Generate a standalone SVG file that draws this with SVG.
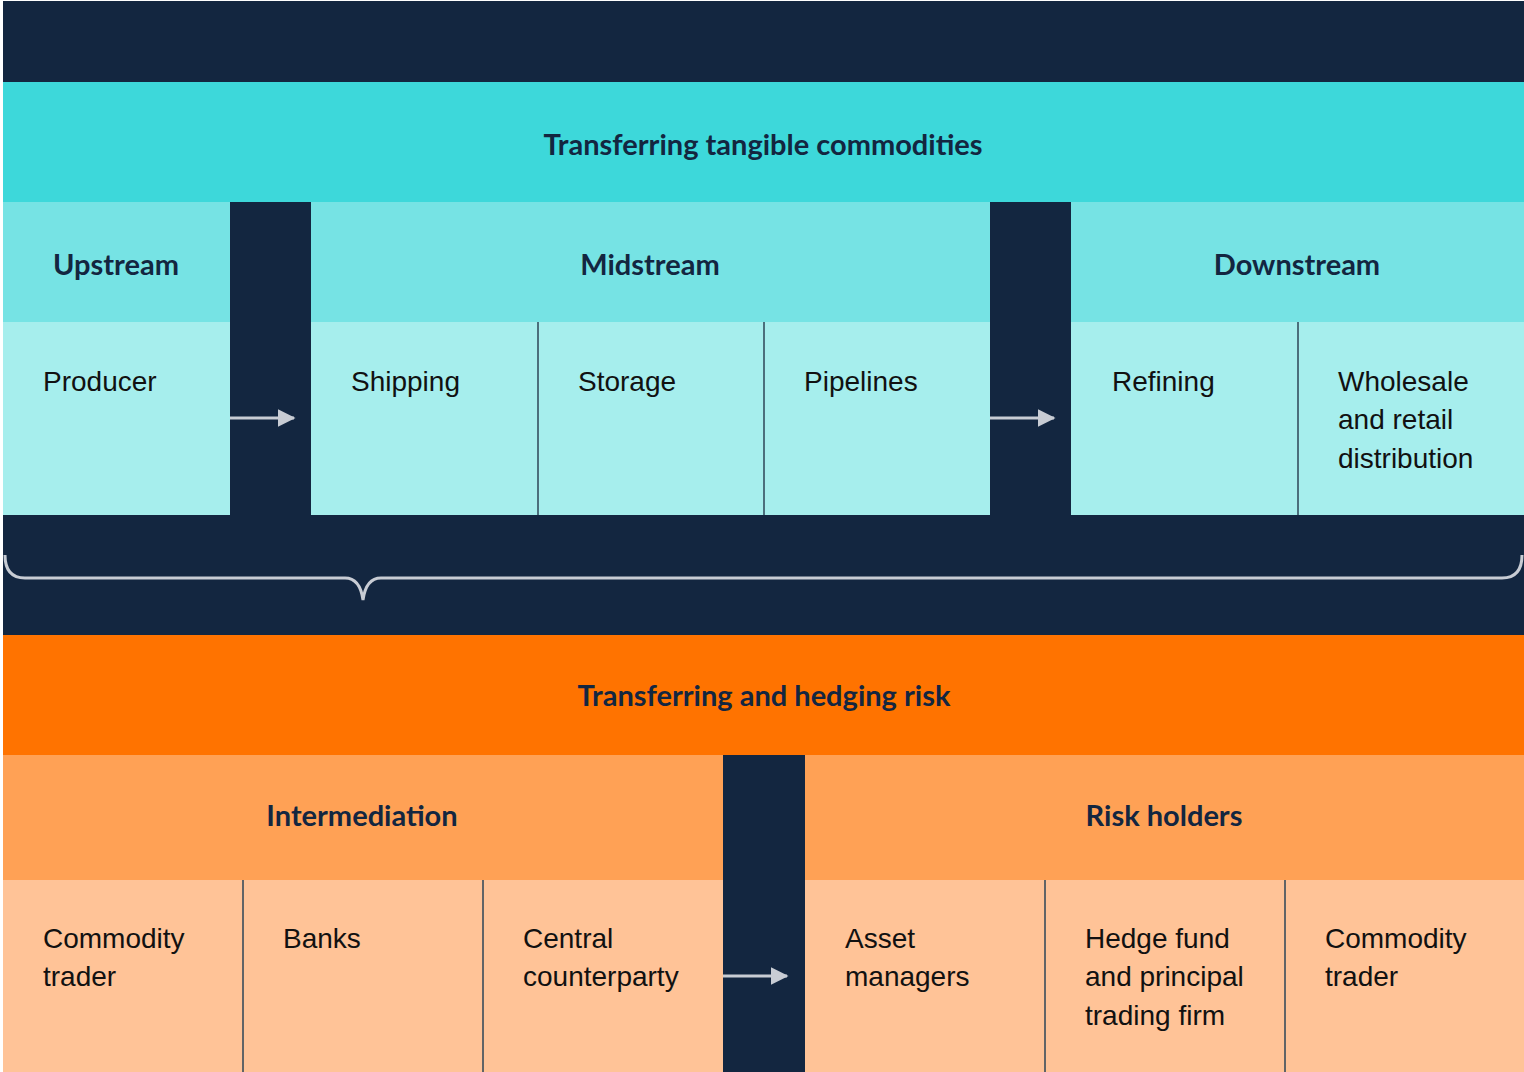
<svg xmlns="http://www.w3.org/2000/svg" width="1524" height="1072" viewBox="0 0 1524 1072">
<defs>
<style>
.title{font-family:Lato,"Open Sans",sans-serif;font-weight:700;font-size:29px;fill:#132640;text-anchor:middle}
.cell{font-family:"Liberation Sans",Arial,sans-serif;font-size:28px;fill:#111111}
.div{stroke:#2c4456;stroke-width:1.5}
.conn{stroke:#c8ccd4;stroke-width:3;fill:none}
</style>
<marker id="ah" markerWidth="6" markerHeight="6" refX="5.5" refY="3" orient="auto" markerUnits="strokeWidth">
<path d="M0,0 L6,3 L0,6 z" fill="#c8ccd4"/>
</marker>
</defs>
<rect x="0" y="0" width="1524" height="1072" fill="#ffffff"/>
<rect x="3" y="1" width="1521" height="1071" fill="#132640"/>

<g id="top-title">
<rect x="3" y="82" width="1521" height="120" fill="#3dd8da"/>
<text class="title" x="763" y="155">Transferring tangible commodities</text>
</g>
<g id="upstream">
<rect x="3" y="202" width="227" height="120" fill="#76e3e4"/>
<text class="title" x="116" y="275">Upstream</text>
</g>
<g id="midstream">
<rect x="311" y="202" width="679" height="120" fill="#76e3e4"/>
<text class="title" x="650" y="275">Midstream</text>
</g>
<g id="downstream">
<rect x="1071" y="202" width="453" height="120" fill="#76e3e4"/>
<text class="title" x="1297" y="275">Downstream</text>
</g>
<g id="producer">
<rect x="3" y="322" width="227" height="193" fill="#a6eeed"/>
<text class="cell" x="43" y="391">Producer</text>
</g>
<g id="shipping">
<rect x="311" y="322" width="227" height="193" fill="#a6eeed"/>
<text class="cell" x="351" y="391">Shipping</text>
</g>
<g id="storage">
<rect x="538" y="322" width="226" height="193" fill="#a6eeed"/>
<line class="div" x1="538" y1="322" x2="538" y2="515"/>
<text class="cell" x="578" y="391">Storage</text>
</g>
<g id="pipelines">
<rect x="764" y="322" width="226" height="193" fill="#a6eeed"/>
<line class="div" x1="764" y1="322" x2="764" y2="515"/>
<text class="cell" x="804" y="391">Pipelines</text>
</g>
<g id="refining">
<rect x="1071" y="322" width="227" height="193" fill="#a6eeed"/>
<text class="cell" x="1112" y="391">Refining</text>
</g>
<g id="wholesale">
<rect x="1298" y="322" width="226" height="193" fill="#a6eeed"/>
<line class="div" x1="1298" y1="322" x2="1298" y2="515"/>
<text class="cell" x="1338" y="391">Wholesale</text>
<text class="cell" x="1338" y="429">and retail</text>
<text class="cell" x="1338" y="468">distribution</text>
</g>

<g id="bottom-title">
<rect x="3" y="635" width="1521" height="120" fill="#ff7300"/>
<text class="title" x="764" y="706">Transferring and hedging risk</text>
</g>
<g id="intermediation">
<rect x="3" y="755" width="720" height="125" fill="#ffa155"/>
<text class="title" x="362" y="826">Intermediation</text>
</g>
<g id="risk-holders">
<rect x="805" y="755" width="719" height="125" fill="#ffa155"/>
<text class="title" x="1164" y="826">Risk holders</text>
</g>
<g id="commodity-trader-1">
<rect x="3" y="880" width="240" height="192" fill="#ffc397"/>
<text class="cell" x="43" y="948">Commodity</text>
<text class="cell" x="43" y="986">trader</text>
</g>
<g id="banks">
<rect x="243" y="880" width="240" height="192" fill="#ffc397"/>
<line class="div" x1="243" y1="880" x2="243" y2="1072"/>
<text class="cell" x="283" y="948">Banks</text>
</g>
<g id="central-counterparty">
<rect x="483" y="880" width="240" height="192" fill="#ffc397"/>
<line class="div" x1="483" y1="880" x2="483" y2="1072"/>
<text class="cell" x="523" y="948">Central</text>
<text class="cell" x="523" y="986">counterparty</text>
</g>
<g id="asset-managers">
<rect x="805" y="880" width="240" height="192" fill="#ffc397"/>
<text class="cell" x="845" y="948">Asset</text>
<text class="cell" x="845" y="986">managers</text>
</g>
<g id="hedge-fund">
<rect x="1045" y="880" width="240" height="192" fill="#ffc397"/>
<line class="div" x1="1045" y1="880" x2="1045" y2="1072"/>
<text class="cell" x="1085" y="948">Hedge fund</text>
<text class="cell" x="1085" y="986">and principal</text>
<text class="cell" x="1085" y="1025">trading firm</text>
</g>
<g id="commodity-trader-2">
<rect x="1285" y="880" width="239" height="192" fill="#ffc397"/>
<line class="div" x1="1285" y1="880" x2="1285" y2="1072"/>
<text class="cell" x="1325" y="948">Commodity</text>
<text class="cell" x="1325" y="986">trader</text>
</g>

<g id="connectors">
<line class="conn" x1="230" y1="418" x2="294" y2="418" marker-end="url(#ah)"/>
<line class="conn" x1="990" y1="418" x2="1054" y2="418" marker-end="url(#ah)"/>
<line class="conn" x1="723" y1="976" x2="787" y2="976" marker-end="url(#ah)"/>
<path class="conn" d="M5,555 Q5,578 25,578 L345,578 Q360,578 363,600 Q366,578 381,578 L1502,578 Q1522,578 1522,555"/>
</g>
</svg>
